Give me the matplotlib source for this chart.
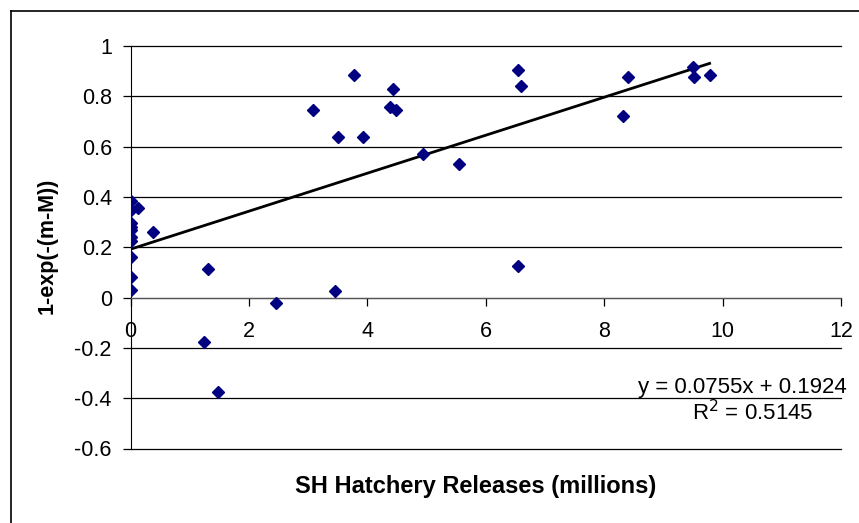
import matplotlib.pyplot as plt
from matplotlib.lines import Line2D
import numpy as np

plt.rcParams['font.family'] = ['Liberation Sans', 'DejaVu Sans']

# SH hatchery releases (millions) and 1-exp(-(m-M))
releases = [0, 0, 0.12, 0, 0, 0, 0, 0, 0, 0, 0,
            0.37, 1.31, 1.24, 1.47, 2.45, 3.46,
            3.08, 3.77, 4.44, 4.38, 4.49, 3.50, 3.93, 4.94, 5.55,
            6.54, 6.60, 6.54,
            8.40, 8.32, 9.50, 9.52, 9.78]
mortality = [0.385, 0.348, 0.355, 0.296, 0.282, 0.269, 0.242, 0.226, 0.163, 0.083, 0.030,
             0.260, 0.112, -0.175, -0.374, -0.020, 0.027,
             0.746, 0.886, 0.830, 0.759, 0.746, 0.637, 0.637, 0.571, 0.530,
             0.903, 0.842, 0.125,
             0.878, 0.722, 0.918, 0.878, 0.886]

# trendline from the chart label
slope = 0.0755
intercept = 0.1924
r2 = 0.5145

W, H = 859, 523
fs = 15.5
fig = plt.figure(figsize=(W / 100, H / 100), dpi=100)
ax = fig.add_axes([130.6 / W, 1 - 448.5 / H, (841 - 130.6) / W, (448.5 - 46) / H])

ax.plot(releases, mortality, linestyle='none', marker='D', ms=5.8,
        color='#000080', zorder=3)

tx = np.array([0, max(releases)])
ax.plot(tx, slope * tx + intercept, color='black', lw=2, zorder=2)

ax.set_xlim(0, 12)
ax.set_ylim(-0.6, 1)
ax.set_xticks(range(0, 13, 2))
ax.set_yticks(np.round(np.arange(-0.6, 1.01, 0.2), 1))
ax.set_yticklabels(['-0.6', '-0.4', '-0.2', '0', '0.2', '0.4', '0.6', '0.8', '1'])
ax.grid(axis='y', color='black', lw=0.9)
for gl in ax.get_ygridlines():
    gl.set_clip_on(False)
ax.set_axisbelow(True)

ax.spines['top'].set_visible(False)
ax.spines['right'].set_visible(False)
ax.spines['bottom'].set_position(('data', 0))
ax.spines['bottom'].set_color('#555555')
ax.spines['left'].set_color('black')
ax.tick_params(axis='y', direction='out', length=6, width=0.9, pad=7.5, labelsize=fs)
ax.tick_params(axis='x', direction='out', length=6, width=0.9, pad=11, labelsize=fs)

fig.text(476 / W, 1 - 487 / H, 'SH Hatchery Releases (millions)', ha='center', va='center',
         fontsize=17, fontweight='bold')
fig.text(47 / W, 1 - 246 / H, '1-exp(-(m-M))', ha='center', va='center', rotation=90,
         fontsize=fs, fontweight='bold')

fig.text(847 / W, 1 - 388 / H, 'y = ' + str(slope) + 'x + ' + str(intercept), ha='right', va='center',
         fontsize=16)
fig.text(753 / W, 1 - 413 / H, 'R$^2$ = ' + str(r2), ha='center', va='center', fontsize=16)

# outer chart frame (left and top edges visible)
fig.add_artist(Line2D([11 / W, 11 / W], [0, 1 - 11 / H], color='black', lw=1.2))
fig.add_artist(Line2D([11 / W, 1], [1 - 11 / H, 1 - 11 / H], color='black', lw=1.2))

fig.savefig('out.png', dpi=100)
